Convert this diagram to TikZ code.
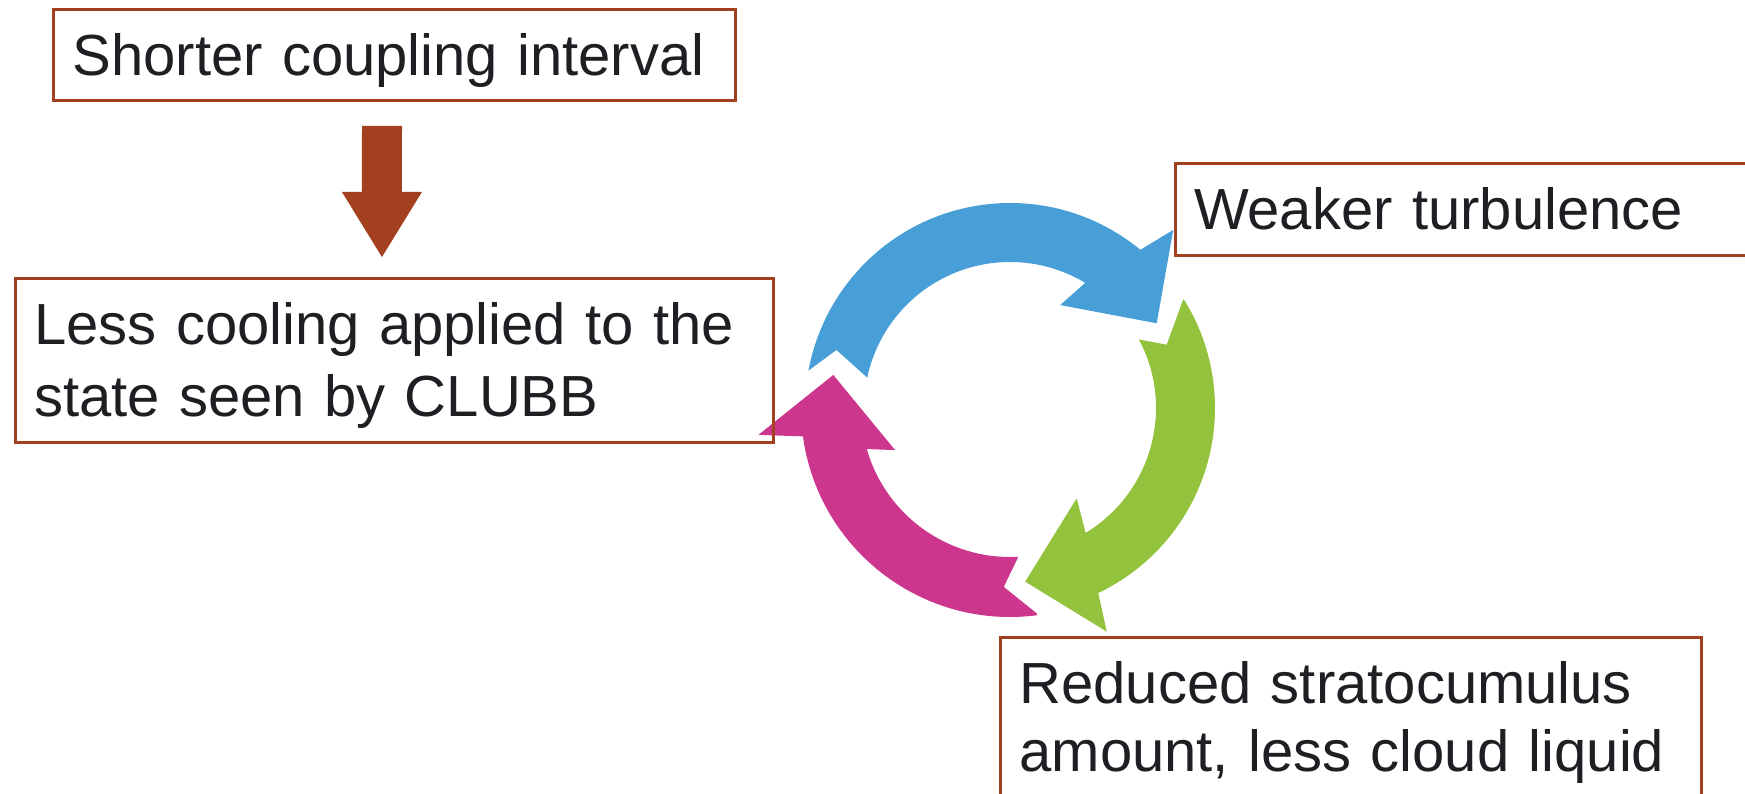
\documentclass[tikz,border=0pt]{standalone}
\usepackage{fontspec}
\setmainfont{Liberation Sans}
\usetikzlibrary{calc}
\definecolor{boxbrown}{HTML}{A3401F}
\definecolor{txt}{HTML}{1E1F23}
\definecolor{cblue}{HTML}{489FD7}
\definecolor{cgreen}{HTML}{93C23C}
\definecolor{cpink}{HTML}{CC368C}
\begin{document}
\begin{tikzpicture}[x=1pt,y=1pt,
  labelbox/.style={draw=boxbrown, line width=3pt, rectangle, anchor=north west,
    inner xsep=19pt, inner ysep=0pt, outer sep=0pt, align=left, text=txt,
    font=\fontsize{58}{72}\selectfont}
]
\useasboundingbox (0,0) rectangle (1745,793);
\clip (0,0) rectangle (1745,793);

% cycle of three arrows
\begin{scope}[shift={(1010,385)}]
  \fill[cblue] (169.5:205) -- (161.5:183) -- (168:146)
    arc[start angle=168,end angle=59,radius=146pt] -- (64:114.5) -- (30:169.4)
    -- (47.5:241.6) -- (50.5:205) arc[start angle=50.5,end angle=169.5,radius=205pt] -- cycle;
  \fill[cgreen] (32:204) -- (22:169) -- (28:146)
    arc[start angle=28,end angle=-58.8,radius=146pt] -- (-53.6:112.3) -- (-85:174.3)
    -- (-66.6:243.7) -- (-64.5:205) arc[start angle=-64.5,end angle=32,radius=205pt] -- cycle;
  \fill[cpink] (-82.6:207) -- (-92:179) -- (-86.8:149)
    arc[start angle=-86.8,end angle=-164,radius=149pt] -- (-159.9:122.4) -- (-190.6:179.8)
    -- (-173.9:253) -- (-172.2:209) arc[start angle=-172.2,end angle=-82.6,radius=209pt] -- cycle;
\end{scope}

% boxes
\node[labelbox, minimum width=682pt, minimum height=91.4pt, text width=644pt,
  text height=42pt, text depth=0pt] (b1) at (53.6,783.7) {Shorter coupling interval};
\node[labelbox, minimum width=757.7pt, minimum height=164pt, text width=719.7pt,
  text height=42pt, text depth=74pt] (b2) at (15.3,514)
  {Less cooling applied to the\\state seen by CLUBB};
\node[labelbox, minimum width=600pt, minimum height=92pt, text width=562pt,
  text height=42pt, text depth=2pt] (b3) at (1175,629) {Weaker turbulence};
\node[labelbox, font=\fontsize{58}{68}\selectfont, minimum width=700.5pt, minimum height=180pt,
  text width=662.5pt, text height=42pt, text depth=90pt] (b4) at (1000.5,156)
  {Reduced stratocumulus\\amount, less cloud liquid};

% block arrow from b1 to b2
\coordinate (arrowtop) at ($(b1.south)+(-12.6,-25.3)$);
\coordinate (arrowtip) at ($(b2.north)+(-12.2,22)$);
\fill[boxbrown] ($(arrowtop)+(-20,0)$) -- ($(arrowtop)+(20,0)$) -- ($(arrowtip)+(20,65)$)
  -- ($(arrowtip)+(40,65)$) -- (arrowtip) -- ($(arrowtip)+(-40,65)$)
  -- ($(arrowtip)+(-20,65)$) -- cycle;
\end{tikzpicture}
\end{document}
